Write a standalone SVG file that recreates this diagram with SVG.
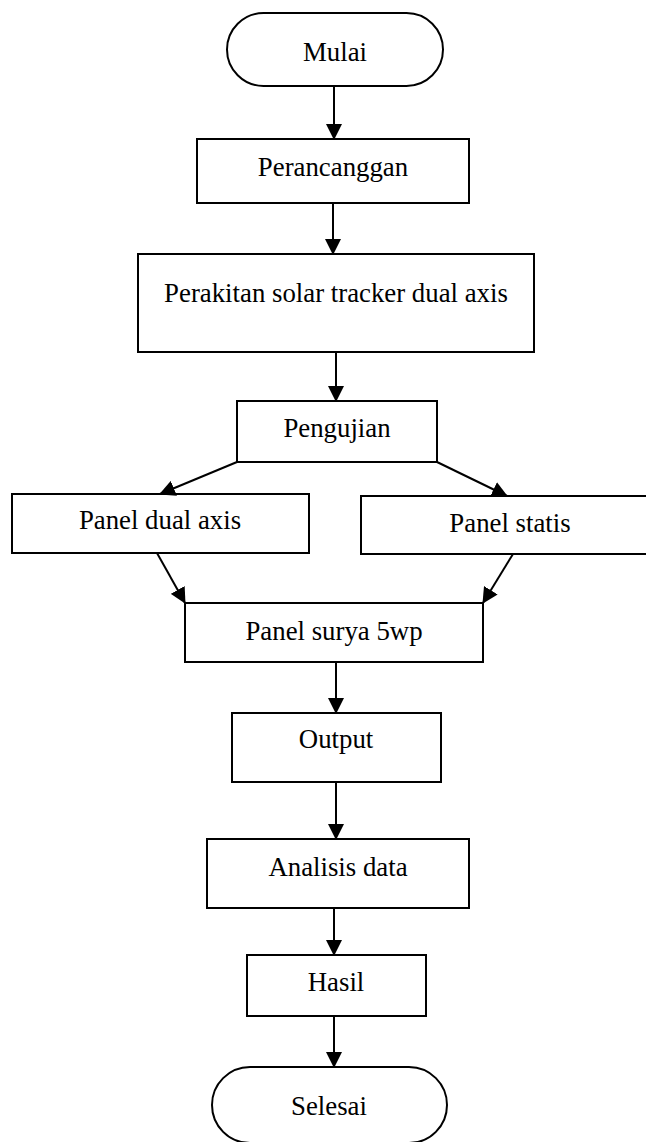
<svg xmlns="http://www.w3.org/2000/svg" width="646" height="1142" viewBox="0 0 646 1142">
<style>
.box{fill:#fff;stroke:#000;stroke-width:2}
.lbl{font-family:"Liberation Serif","Times New Roman",serif;font-size:26.8px;fill:#000;text-anchor:middle}
.edge{stroke:#000;stroke-width:2;fill:none;marker-end:url(#arr)}
</style>
<defs>
<marker id="arr" markerUnits="userSpaceOnUse" markerWidth="16" markerHeight="16" refX="15" refY="8" orient="auto" viewBox="0 0 16 16">
<path d="M0,0 L16,8 L0,16 z" fill="#000"/>
</marker>
</defs>
<rect width="646" height="1142" fill="#fff"/>
<g id="mulai"><rect class="box" x="227" y="13" width="216" height="73" rx="36.5" ry="36.5"/><text class="lbl" x="335" y="61">Mulai</text></g>
<g id="perancanggan"><rect class="box" x="197" y="139" width="272" height="64"/><text class="lbl" x="333" y="176">Perancanggan</text></g>
<g id="perakitan"><rect class="box" x="138" y="254" width="396" height="98"/><text class="lbl" x="336" y="302">Perakitan solar tracker dual axis</text></g>
<g id="pengujian"><rect class="box" x="237" y="401" width="200" height="61"/><text class="lbl" x="337" y="437">Pengujian</text></g>
<g id="panel-dual"><rect class="box" x="12" y="494" width="297" height="59"/><text class="lbl" x="160" y="529">Panel dual axis</text></g>
<g id="panel-statis"><rect class="box" x="361" y="496" width="300" height="58"/><text class="lbl" x="510" y="532">Panel statis</text></g>
<g id="panel-surya"><rect class="box" x="185" y="603" width="298" height="59"/><text class="lbl" x="334" y="640">Panel surya 5wp</text></g>
<g id="output"><rect class="box" x="232" y="713" width="209" height="69"/><text class="lbl" x="336" y="748">Output</text></g>
<g id="analisis"><rect class="box" x="207" y="839" width="262" height="69"/><text class="lbl" x="338" y="876">Analisis data</text></g>
<g id="hasil"><rect class="box" x="247" y="955" width="179" height="61"/><text class="lbl" x="336" y="991">Hasil</text></g>
<g id="selesai"><rect class="box" x="212" y="1067" width="235" height="76" rx="38" ry="38"/><text class="lbl" x="329" y="1115">Selesai</text></g>
<g id="connectors">
<line class="edge" x1="334" y1="86" x2="334" y2="139"/>
<line class="edge" x1="333" y1="203" x2="333" y2="254"/>
<line class="edge" x1="336" y1="352" x2="336" y2="401"/>
<line class="edge" x1="237" y1="462" x2="160" y2="494"/>
<line class="edge" x1="437" y1="462" x2="507" y2="496"/>
<line class="edge" x1="157" y1="553" x2="185" y2="603"/>
<line class="edge" x1="513" y1="554" x2="483" y2="603"/>
<line class="edge" x1="336" y1="662" x2="336" y2="713"/>
<line class="edge" x1="336" y1="782" x2="336" y2="839"/>
<line class="edge" x1="334" y1="908" x2="334" y2="955"/>
<line class="edge" x1="334" y1="1016" x2="334" y2="1067"/>
</g>
</svg>
